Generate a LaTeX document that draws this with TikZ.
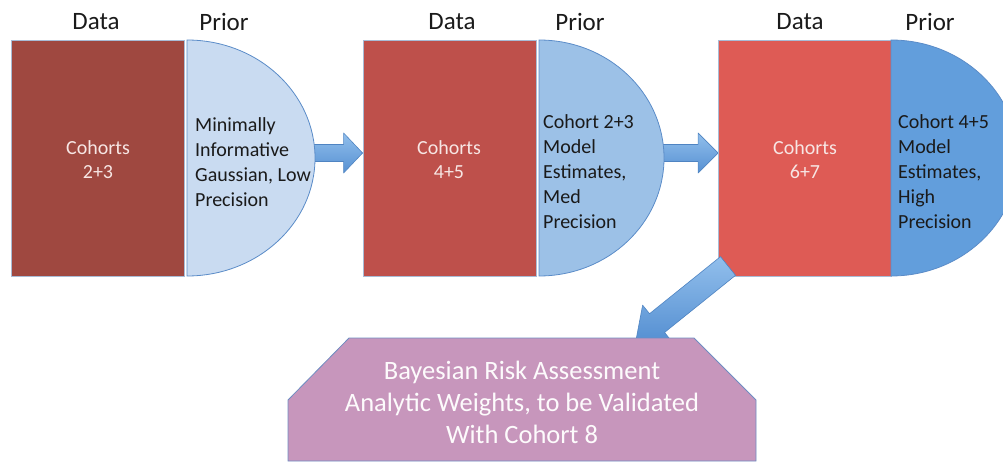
\documentclass[tikz,border=0pt]{standalone}
\usepackage{fontspec}
\setmainfont{Carlito}
\usetikzlibrary{calc}
\definecolor{dataA}{HTML}{9F4840}
\definecolor{dataB}{HTML}{BE504B}
\definecolor{dataC}{HTML}{DE5B55}
\definecolor{priorA}{HTML}{C9DBF1}
\definecolor{priorB}{HTML}{9CC1E7}
\definecolor{priorC}{HTML}{629EDC}
\definecolor{priorline}{HTML}{5B8CC8}
\definecolor{rectline}{HTML}{A8BCD6}
\definecolor{arrowtop}{HTML}{92BFEC}
\definecolor{arrowbot}{HTML}{5690D2}
\definecolor{arrowline}{HTML}{4F84C2}
\definecolor{octfill}{HTML}{C796BC}
\definecolor{octline}{HTML}{6E8DC2}
\definecolor{darktext}{HTML}{1A1A1A}
\definecolor{lighttext}{HTML}{F7E6E4}
\tikzset{
  databox/.style={draw=rectline, line width=0.8pt, minimum width=173pt, minimum height=236pt, inner sep=0pt},
  priorshape/.style={draw=priorline, line width=0.8pt},
  headlabel/.style={font=\fontsize{25}{30}\selectfont, text=darktext},
  datatext/.style={font=\fontsize{20}{24}\selectfont, text=lighttext, align=center},
  priortext/.style={font=\fontsize{20}{25}\selectfont, text=darktext, align=left, anchor=west, inner sep=0pt},
  blockarrow/.style={top color=arrowtop, bottom color=arrowbot, draw=arrowline, line width=0.6pt, line join=round},
  octstyle/.style={fill=octfill, draw=octline, line width=0.8pt},
  octtext/.style={font=\fontsize{26.5}{32}\selectfont, text=white!96!octfill, align=center}
}
% #1 start, #2 tip, #3 shaft half width, #4 head half width, #5 head length
\newcommand{\barrowdraw}[5]{%
  \coordinate (bab) at ($(#2)!#5!(#1)$);
  \path[blockarrow] ($(#1)!#3!90:(#2)$) -- ($(bab)!#3!90:(#2)$) -- ($(bab)!#4!90:(#2)$) -- (#2)
    -- ($(bab)!#4!-90:(#2)$) -- ($(bab)!#3!-90:(#2)$) -- ($(#1)!#3!-90:(#2)$) -- cycle;
}
\begin{document}
\begin{tikzpicture}[x=1pt,y=-1pt]
\useasboundingbox (0,0) rectangle (1003,462);
\clip (0,0) rectangle (1003,462);

% data boxes (positions)
\node[databox, fill=dataA] (d1) at (98,158) {};
\node[databox, fill=dataB] (d2) at (449.5,158) {};
\node[databox, fill=dataC] (d3) at (805,158) {};

% horizontal arrows (under the priors)
\coordinate (a1s) at (300,153);
\coordinate (a2s) at (650,153);
\coordinate (a1t) at (d2.west |- a1s);
\coordinate (a2t) at (d3.west |- a2s);
\barrowdraw{a1s}{a1t}{8.5pt}{20pt}{19pt}
\barrowdraw{a2s}{a2t}{8.5pt}{20pt}{20pt}

% redraw data boxes on top of arrows
\node[databox, fill=dataA] at (d1) {};
\node[databox, fill=dataB] at (d2) {};
\node[databox, fill=dataC] at (d3) {};

% prior half-discs
\path[priorshape, fill=priorA] (187,40) arc[start angle=90, end angle=-90, x radius=128pt, y radius=118pt] -- cycle;
\path[priorshape, fill=priorB] (539,40) arc[start angle=90, end angle=-90, x radius=125pt, y radius=118pt] -- cycle;
\path[priorshape, fill=priorC] (891,40) arc[start angle=90, end angle=-90, x radius=127pt, y radius=118pt] -- cycle;

% labels above
\node[headlabel] (h1) at (96,22) {Data};
\node[headlabel] (h2) at (224,22) {Prior};
\node[headlabel] (h3) at (452,22) {Data};
\node[headlabel] (h4) at (580,22) {Prior};
\node[headlabel] (h5) at (800,22) {Data};
\node[headlabel] (h6) at (930,22) {Prior};

% texts in data boxes
\node[datatext] (t1) at (98,160) {Cohorts\\2+3};
\node[datatext] (t2) at (449,160) {Cohorts\\4+5};
\node[datatext] (t3) at (805,160) {Cohorts\\6+7};

% texts in priors
\node[priortext] (p1) at (195,162) {Minimally\\Informative\\Gaussian, Low\\Precision};
\node[priortext] (p2) at (543,172) {Cohort 2+3\\Model\\Estimates,\\Med\\Precision};
\node[priortext] (p3) at (898,172) {Cohort 4+5\\Model\\Estimates,\\High\\Precision};

% diagonal arrow to result
\coordinate (a3s) at (728,266);
\coordinate (a3t) at (636,340);
\barrowdraw{a3s}{a3t}{12pt}{23pt}{27pt}

% result octagon
\coordinate (o1) at (349,338);
\coordinate (o2) at (694,338);
\coordinate (o3) at (756,400);
\coordinate (o4) at (756,461);
\coordinate (o5) at (288,461);
\coordinate (o6) at (288,400);
\path[octstyle] (o1) -- (o2) -- (o3) -- (o4) -- (o5) -- (o6) -- cycle;
\node[octtext] (res) at (522,402) {Bayesian Risk Assessment\\Analytic Weights, to be Validated\\With Cohort 8};
\end{tikzpicture}
\end{document}
